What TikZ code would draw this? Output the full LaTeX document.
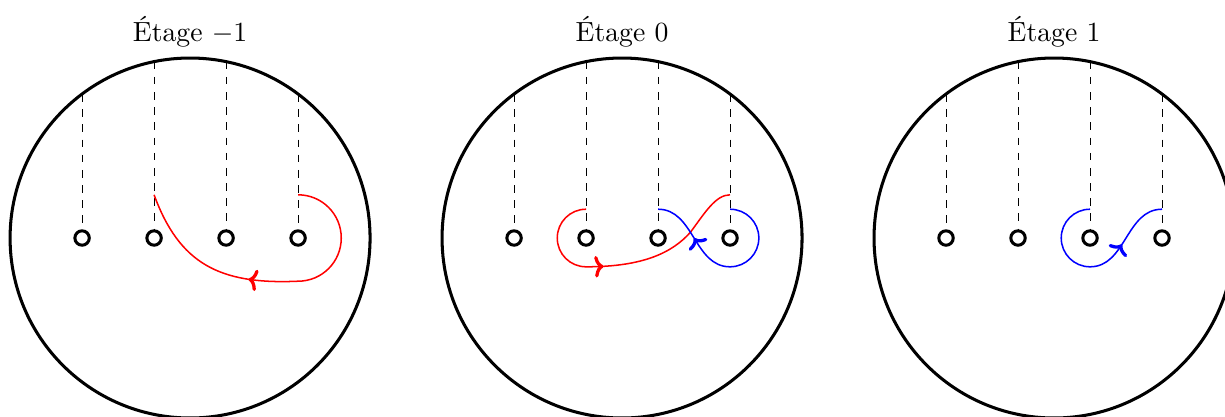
\documentclass[tikz,border=0pt,11pt]{standalone}
\usetikzlibrary{arrows.meta,decorations.markings}
\begin{document}
\begin{tikzpicture}[>=To,
  disque/.style={very thick},
  trou/.style={circle, draw, very thick, inner sep=0pt, minimum size=0.2cm},
  fil/.style={dashed},
  brin/.style={semithick},
  fleche/.style={postaction={decorate, decoration={markings,
    mark=at position #1 with {\arrow[line width=1.3pt]{To[length=3.5pt,width=8.5pt]}}}}}]
 \clip (-2.64,-2.486) rectangle (14.375,3.306);
 % les trois etages
 \foreach \s/\lab in {0/{$-1$}, 1/0, 2/1} {
  \begin{scope}[shift={(6*\s,0)}]
   \draw[disque] (0,0) circle (2.5);
   \node[anchor=base] (t\s) at (0,2.73) {\'Etage \lab};
   \foreach \i/\x in {1/-1.5, 2/-0.5, 3/0.5, 4/1.5} {
    \node[trou] (p\s\i) at (\x,0) {};
    \draw[fil] (\x,{sqrt(6.25-(\x)*(\x))}) -- (p\s\i.north);
   }
  \end{scope}
 }
 % etage -1
 \draw[brin, red, fleche=0.58] (1.5,0.6) to[out=0,in=90] (2.1,0) to[out=-90,in=0] (1.5,-0.6)
   .. controls (0.4,-0.65) and (-0.15,-0.35) .. (-0.5,0.6);
 % etage 0
 \draw[brin, red, fleche=0.415] (5.5,0.4) to[out=180,in=90] (5.1,0) to[out=-90,in=180] (5.5,-0.4)
   .. controls (6.3,-0.4) and (6.7,-0.2) .. (6.95,0.08) .. controls (7.15,0.35) and (7.3,0.6) .. (7.5,0.6);
 \draw[brin, blue, fleche=0.74] (7.5,0.4) to[out=0,in=90] (7.9,0) to[out=-90,in=0] (7.5,-0.4)
   to[out=180,in=0] (6.5,0.4);
 % etage 1
 \draw[brin, blue, fleche=0.70] (12.5,0.4) to[out=180,in=90] (12.1,0) to[out=-90,in=180] (12.5,-0.4)
   to[out=0,in=180] (13.5,0.4);
\end{tikzpicture}
\end{document}
